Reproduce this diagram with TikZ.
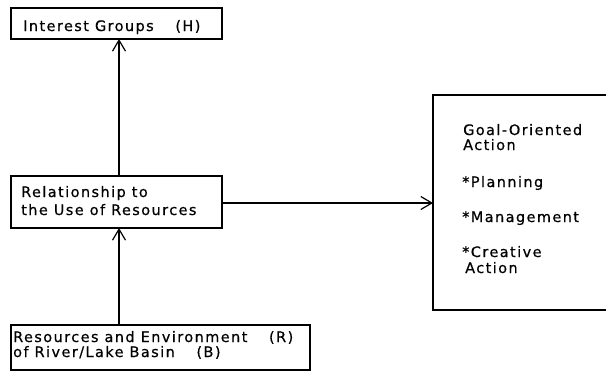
\documentclass[tikz,border=0pt]{standalone}
\usepackage{fontspec}
\setmainfont{DejaVu Sans}[LetterSpace=10, FakeBold=0.6]
\usetikzlibrary{arrows.meta}
\begin{document}
\begin{tikzpicture}[x=1bp,y=-1bp,
  box/.style={draw, line width=1.3bp},
  label/.style={anchor=base west, inner sep=0pt, font=\fontsize{14.5}{17}\selectfont},
  link/.style={line width=1.2bp, -{Straight Barb[length=11bp,width=13bp,line width=1.2bp]}}]
  \useasboundingbox (0,0) rectangle (606,372);
  % boxes
  \draw[box] (11,8) rectangle (222,39);
  \draw[box] (11,176) rectangle (222,228);
  \draw[box] (433,95) rectangle (612,310);
  \draw[box] (11,325) rectangle (310,370);
  % anchors for connectors
  \coordinate (ig) at (119,39);
  \coordinate (relT) at (119,176);
  \coordinate (relB) at (119,228);
  \coordinate (relR) at (222,203);
  \coordinate (goalL) at (433,203);
  \coordinate (resT) at (119,325);
  % texts
  \node[label] (tH) at (23,31) {Interest Groups\hspace{1.5em}(H)};
  \node[label] (tR1) at (21,197) {Relationship to};
  \node[label] (tR2) at (21,215) {the Use of Resources};
  \node[label] (tG1) at (463,135) {Goal-Oriented};
  \node[label] (tG2) at (463,150) {Action};
  \node[label] (tG3) at (462,187) {*Planning};
  \node[label] (tG4) at (462,222) {*Management};
  \node[label] (tG5) at (462,257) {*Creative};
  \node[label] (tG6) at (465,273) {Action};
  \node[label] (tB1) at (13,342) {Resources and Environment\hspace{1.5em}(R)};
  \node[label] (tB2) at (13,357) {of River/Lake Basin\hspace{1.5em}(B)};
  % connectors
  \draw[link] (relT) -- (ig);
  \draw[link] (resT) -- (relB);
  \draw[link] (relR) -- (goalL);
\end{tikzpicture}
\end{document}
